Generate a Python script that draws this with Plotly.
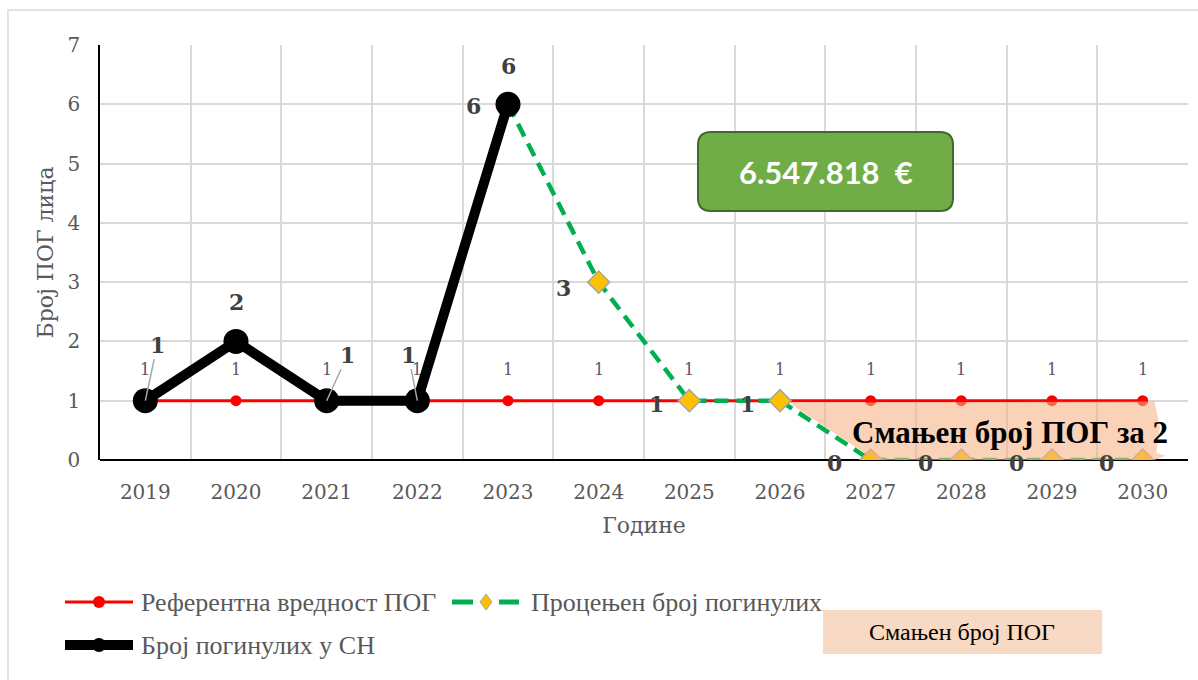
import plotly.graph_objects as go

# ---- data -------------------------------------------------------------
years = ["2019", "2020", "2021", "2022", "2023", "2024",
         "2025", "2026", "2027", "2028", "2029", "2030"]
reference_pog = [1, 1, 1, 1, 1, 1, 1, 1, 1, 1, 1, 1]
actual_years = ["2019", "2020", "2021", "2022", "2023"]
actual_deaths = [1, 2, 1, 1, 6]
forecast_years = ["2023", "2024", "2025", "2026", "2027", "2028", "2029", "2030"]
forecast_deaths = [6, 3, 1, 1, 0, 0, 0, 0]

cost_text = "6.547.818  €"
reduction_text = "Смањен број ПОГ за 2"

name_ref = "Референтна вредност ПОГ"
name_fc = "Процењен број погинулих"
name_act = "Број погинулих у СН"
name_area = "Смањен број ПОГ"

# ---- layout geometry (pixels) ----------------------------------------
W, H = 1198, 680
L, R, T, B = 100, 10, 45, 220
PW, PH = W - L - R, H - T - B

def px(x):
    return (x - L) / PW

def py(y):
    return (H - B - y) / PH

idx = {y: i for i, y in enumerate(years)}

SERIF = "DejaVu Serif"
TIMES = "Liberation Serif"
GREY = "#595959"
DARK = "#404040"

fig = go.Figure()

fig.add_trace(go.Scatter(
    x=[idx[y] for y in years], y=reference_pog, mode="lines+markers",
    name=name_ref, line=dict(color="#FF0000", width=3),
    marker=dict(color="#FF0000", size=11), showlegend=False))

fig.add_trace(go.Scatter(
    x=[idx[y] for y in forecast_years], y=forecast_deaths, mode="lines+markers",
    name=name_fc, line=dict(color="#00B050", width=4.5, dash="14px,8px"),
    marker=dict(symbol="diamond", color="#FFC000", size=17,
                line=dict(color="#A5A5A5", width=1.5)), showlegend=False))

fig.add_trace(go.Scatter(
    x=[idx[y] for y in actual_years], y=actual_deaths, mode="lines+markers",
    name=name_act, line=dict(color="#000000", width=10),
    marker=dict(color="#000000", size=25), showlegend=False))

ann = []

# value labels of the reference series
for y, v in zip(years, reference_pog):
    ann.append(dict(x=idx[y], y=v, text=str(v), showarrow=False, yshift=31,
                    xanchor="center", yanchor="middle",
                    font=dict(family=SERIF, size=16, color=GREY)))

# value labels of recorded deaths (some with leader lines)
act_offsets = [(12, -56, True), (0, -39, False), (21, -46, True),
               (-9, -46, True), (0, -38, False)]
for y, v, (dx, dy, lead) in zip(actual_years, actual_deaths, act_offsets):
    f = dict(family=SERIF, size=22, color=DARK, weight="bold")
    if lead:
        ann.append(dict(x=idx[y], y=v, text=str(v), showarrow=True,
                        ax=dx, ay=dy, arrowhead=0, arrowwidth=1.5,
                        arrowcolor="#A6A6A6", standoff=0, font=f))
    else:
        ann.append(dict(x=idx[y], y=v, text=str(v), showarrow=False,
                        xanchor="center", yanchor="middle",
                        xshift=dx, yshift=-dy, font=f))

# value labels of the forecast, placed left of each point
fc_offsets = [(-35, 2), (-35, 6), (-33, 3), (-33, 3), (-36, 3), (-36, 3), (-36, 3), (-36, 3)]
for y, v, (dx, dy) in zip(forecast_years, forecast_deaths, fc_offsets):
    ann.append(dict(x=idx[y], y=v, text=str(v), showarrow=False,
                    xanchor="center", yanchor="middle",
                    xshift=dx, yshift=-dy,
                    font=dict(family=SERIF, size=22, color=DARK, weight="bold")))

shapes = []

# chart frame
shapes.append(dict(type="rect", xref="paper", yref="paper",
                   x0=px(8), y0=py(700), x1=px(1210), y1=py(10),
                   line=dict(color="#D9D9D9", width=1.5), layer="below"))

# shaded "reduction" area between reference line and forecast
area_pts = [(7.11, 0.965), (11.13, 0.985), (11.19, 0.55), (11.15, 0.12),
            (11.25, 0.07), (11.1, -0.02), (8.4, -0.1), (8.05, -0.02),
            (7.95, 0.1), (7.2, 0.86)]
area_path = "M " + " L ".join(f"{a},{b}" for a, b in area_pts) + " Z"
shapes.append(dict(type="path", xref="x", yref="y", path=area_path,
                   fillcolor="#F4B183", opacity=0.58, line=dict(width=0),
                   layer="above"))

def paper_text(x, y, text, font, xanchor="center"):
    ann.append(dict(x=px(x), y=py(y), xref="paper", yref="paper",
                    xanchor=xanchor, yanchor="middle", text=text,
                    showarrow=False, font=font))

paper_text(1010, 432, reduction_text,
           dict(family=TIMES, size=31, color="#000000", weight="bold"))

# rounded cost box
def rounded_rect(x0, y0, x1, y1, r):
    pts = [
        f"M {px(x0 + r)},{py(y0)}", f"L {px(x1 - r)},{py(y0)}",
        f"Q {px(x1)},{py(y0)} {px(x1)},{py(y0 + r)}", f"L {px(x1)},{py(y1 - r)}",
        f"Q {px(x1)},{py(y1)} {px(x1 - r)},{py(y1)}", f"L {px(x0 + r)},{py(y1)}",
        f"Q {px(x0)},{py(y1)} {px(x0)},{py(y1 - r)}", f"L {px(x0)},{py(y0 + r)}",
        f"Q {px(x0)},{py(y0)} {px(x0 + r)},{py(y0)}", "Z"]
    return " ".join(pts)

shapes.append(dict(type="path", xref="paper", yref="paper",
                   path=rounded_rect(698, 132, 953, 211, 13),
                   fillcolor="#70AD47", line=dict(color="#43682B", width=2),
                   layer="above"))
paper_text(826, 172, f"<b>{cost_text}</b>",
           dict(family="Lato", size=31, color="#FFFFFF"))

# legend
def leg_line(x0, x1, y, color, width):
    shapes.append(dict(type="line", xref="paper", yref="paper",
                       x0=px(x0), x1=px(x1), y0=py(y), y1=py(y),
                       line=dict(color=color, width=width)))

LEG_FONT = dict(family=TIMES, size=26, color=GREY)

leg_line(65, 133, 602, "#FF0000", 3)
shapes.append(dict(type="circle", xref="paper", yref="paper",
                   x0=px(93), x1=px(105), y0=py(596), y1=py(608),
                   fillcolor="#FF0000", line=dict(width=0)))
paper_text(139, 602, name_ref, LEG_FONT, "left")

leg_line(452, 473, 602, "#00B050", 5)
leg_line(499, 519, 602, "#00B050", 5)
shapes.append(dict(type="path", xref="paper", yref="paper",
                   path=f"M {px(486)},{py(594)} L {px(492)},{py(602)} "
                        f"L {px(486)},{py(610)} L {px(480)},{py(602)} Z",
                   fillcolor="#FFC000", line=dict(color="#A5A5A5", width=1)))
paper_text(529, 602, name_fc, LEG_FONT, "left")

leg_line(65, 133, 645, "#000000", 10)
shapes.append(dict(type="circle", xref="paper", yref="paper",
                   x0=px(92), x1=px(106), y0=py(638), y1=py(652),
                   fillcolor="#000000", line=dict(width=0)))
paper_text(139, 645, name_act, LEG_FONT, "left")

shapes.append(dict(type="rect", xref="paper", yref="paper",
                   x0=px(823), x1=px(1102), y0=py(654), y1=py(610),
                   fillcolor="#F8D9C3", line=dict(width=0), layer="below"))
paper_text(962, 632, name_area, dict(family=TIMES, size=24, color="#000000"))

fig.update_layout(
    width=W, height=H,
    margin=dict(l=L, r=R, t=T, b=B),
    paper_bgcolor="#FFFFFF", plot_bgcolor="#FFFFFF",
    shapes=shapes, annotations=ann, showlegend=False,
    xaxis=dict(
        range=[-0.5, len(years) - 0.5],
        tickmode="array", tickvals=list(range(len(years))), ticktext=years,
        showgrid=False, zeroline=False,
        minor=dict(tickmode="array",
                   tickvals=[i + 0.5 for i in range(-1, len(years))],
                   showgrid=True, gridcolor="#D9D9D9", gridwidth=1.5),
        showline=False, ticks="", ticklabelstandoff=18,
        tickfont=dict(family=SERIF, size=20, color=GREY),
        title=dict(text="Године", standoff=14,
                   font=dict(family=SERIF, size=22, color=GREY)),
    ),
    yaxis=dict(
        range=[0, 7], dtick=1, tick0=0,
        showgrid=True, gridcolor="#D9D9D9", gridwidth=1.5,
        zeroline=True, zerolinecolor="#000000", zerolinewidth=1.5,
        showline=True, linecolor="#000000", linewidth=1.5,
        ticks="", ticklabelstandoff=14,
        tickfont=dict(family=SERIF, size=20, color=GREY),
        title=dict(text="Број ПОГ лица", standoff=8,
                   font=dict(family=SERIF, size=22, color=GREY)),
    ),
)

fig.write_html("out.html")
